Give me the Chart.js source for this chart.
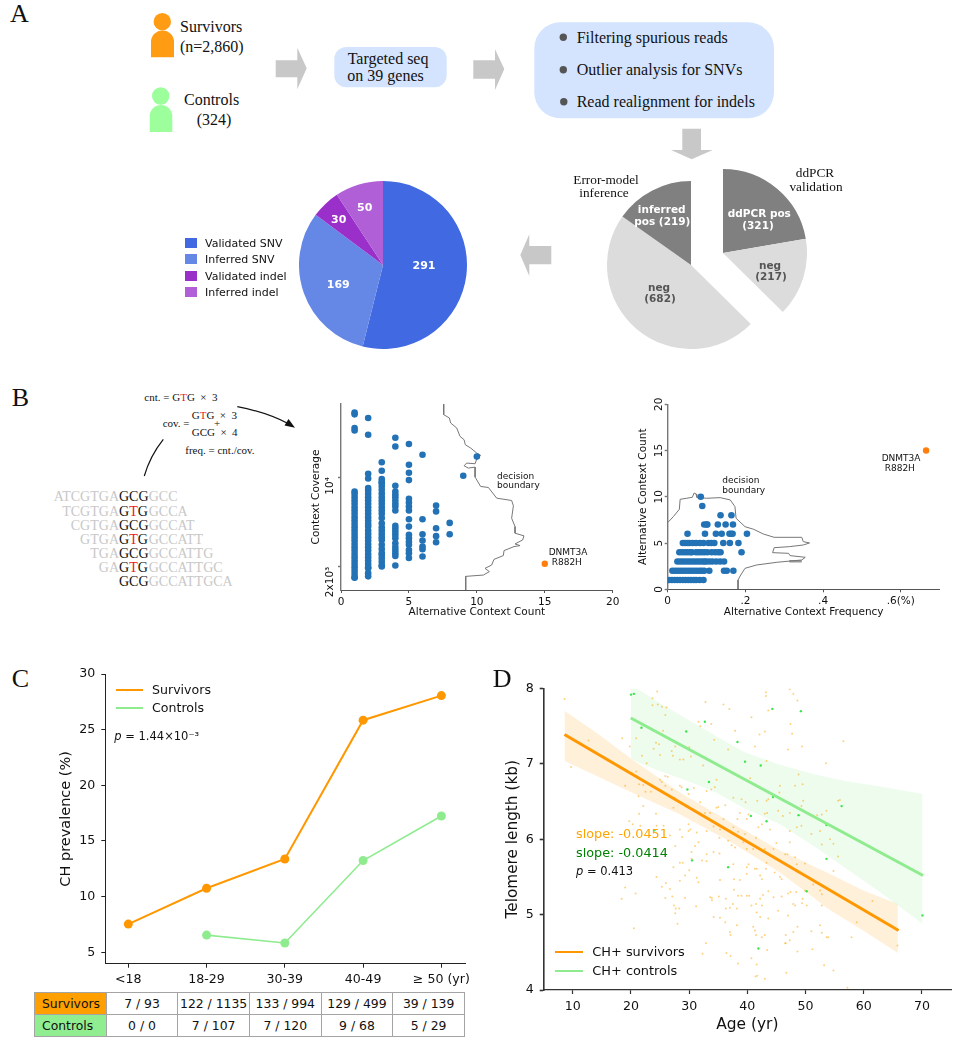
<!DOCTYPE html>
<html lang="en">
<head>
<meta charset="UTF-8">
<title>CH in survivors</title>
<script src="https://cdn.jsdelivr.net/npm/chart.js"></script>
<style>
    body { margin: 0; background: #fff; }
    #fig { position: relative; width: 967px; height: 1050px; overflow: hidden; }
    #fig canvas { position: absolute; }
    #shapes { position: absolute; left: 0; top: 0; }
    .lbl { position: absolute; white-space: nowrap; line-height: 1; color: #111; }
    .serif { font-family: "Liberation Serif", serif; }
    .sans { font-family: "DejaVu Sans", sans-serif; }
    .red { color: #e8201c; }
    .dark { color: #111; }
    table { position: absolute; left: 34px; top: 992px; width: 431px; height: 44px; border-collapse: collapse;
            table-layout: fixed; font: 12.4px "DejaVu Sans", sans-serif; color: #111; }
    td { border: 1px solid #a4a4a4; text-align: center; padding: 0; height: 21px; white-space: nowrap; }
    td.head { text-align: left; padding-left: 7px; }
</style>
</head>
<body>
<div id="fig">
    <svg id="shapes" width="967" height="1050">
        <!-- people -->
        <circle cx="162.3" cy="21.7" r="8.7" fill="#ff9c14"/>
        <path d="M151 57.3 V42 A11.5 11.5 0 0 1 174 42 V57.3 Z" fill="#ff9c14"/>
        <circle cx="160.7" cy="96" r="8.7" fill="#9cff9c"/>
        <path d="M149.7 132 V116.3 A11.3 11.3 0 0 1 172.3 116.3 V132 Z" fill="#9cff9c"/>
        <!-- flow boxes -->
        <rect x="334.3" y="47" width="112.4" height="40.3" rx="12" fill="#d4e4ff"/>
        <rect x="534.3" y="22.3" width="239.7" height="96" rx="26" fill="#d4e4ff"/>
        <circle cx="563.3" cy="37.3" r="3.7" fill="#555"/>
        <circle cx="563.3" cy="69.7" r="3.7" fill="#555"/>
        <circle cx="563.8" cy="101.7" r="3.7" fill="#555"/>
        <!-- grey arrows -->
        <polygon points="275.7,60.3 297.3,60.3 297.3,47.7 306.7,68.3 297.3,89.3 297.3,77.3 275.7,77.3" fill="#c8c8c8"/>
        <polygon points="473.3,60.3 495,60.3 495,49.3 504.3,69 495,90 495,78.7 473.3,78.7" fill="#c8c8c8"/>
        <polygon points="682.3,128.7 701,128.7 701,150 712.7,150 691.7,159.3 671,150 682.3,150" fill="#c8c8c8"/>
        <polygon points="551.3,246 529.3,246 529.3,234.3 520.3,255 529.3,276 529.3,264.3 551.3,264.3" fill="#c8c8c8"/>
        <!-- panel B arrows -->
        <path d="M237.3 406.7 Q266 412 289 424" fill="none" stroke="#111" stroke-width="1.2"/>
        <polygon points="295,427.7 284.5,425.5 288.5,419" fill="#111"/>
        <path d="M163.3 439.3 Q150 456 144.3 476" fill="none" stroke="#111" stroke-width="1.2"/>
    </svg>
    <canvas id="outcomePie" style="left:299px;top:181px"></canvas>
    <canvas id="ddpcrPie" style="left:639px;top:169.3px"></canvas>
    <canvas id="modelPie" style="left:607.3px;top:181px"></canvas>
    <canvas id="coverageChart" style="left:300px;top:394px"></canvas>
    <canvas id="frequencyChart" style="left:630px;top:394px"></canvas>
    <canvas id="prevalenceChart" style="left:40px;top:660px"></canvas>
    <canvas id="telomereChart" style="left:490px;top:675px"></canvas>
    <table id="countTable"></table>
</div>

<script>
    // panel A
    const outcomeLabels = ['Validated SNV', 'Inferred SNV', 'Validated indel', 'Inferred indel'];
    const outcomeValues = [291, 169, 30, 50];
    const outcomeColors = ['#4169e1', '#6588e6', '#9a30c9', '#b05fd6'];
    const callLabels = ['ddPCR pos', 'neg', 'neg', 'inferred pos'];
    const callValues = [321, 217, 682, 219];

    // panel B, left: context coverage per alternative count
    const coverageCount1 = [31900, 30900, 24200, 23100, 7725, 7406, 6975, 6568, 6186, 5825, 5486, 5166, 4865, 4582, 4315, 4063, 3826, 3603, 3393, 3196, 3009, 2834, 2669, 2513, 2367, 2229, 2099, 1977, 1861, 1753, 1651, 1640];
    const coverageCount2 = [28930, 21400, 10600, 9763, 8206, 7865, 7406, 6975, 6600, 6186, 5825, 5486, 5166, 4865, 4582, 4315, 4110, 3826, 3603, 3393, 3196, 3009, 2834, 2669, 2513, 2367, 2229, 2099, 1977, 1940, 1780, 1680];
    const coverageCount3 = [13050, 11210, 9640, 9150, 8975, 8500, 7950, 7450, 6975, 6568, 6186, 5825, 5486, 5166, 4800, 4360, 4063, 3826, 3603, 3393, 3230, 2960, 2750, 2560, 2470, 2320, 2180, 2050, 2010];
    const coverageCount4 = [20300, 17350, 8550, 7725, 7300, 6975, 6568, 6186, 5900, 5486, 4160, 3950, 3750, 3550, 3340, 3040, 2850, 2700, 2550, 2420, 2040];
    const coverageCount5 = [18120, 12490, 10810, 9475, 6770, 6340, 5900, 5490, 4690, 4110, 3540, 3330, 3130, 2960, 2700, 2540, 2340];
    const coverageCount6 = [14950, 4690, 3580, 3200, 2870, 2740, 2400];
    const coverageCount7 = [5995, 5400, 3990, 3460, 3100];
    const coverageCount8 = [4390, 3580];
    const coverageCount9 = [10240];
    const coverageCount10 = [14450];
    const coverageBoundaryX = [7.56, 7.56, 7.98, 8.07, 8.52, 8.76, 9.06, 9.15, 9.55, 9.99, 10.28, 9.99, 9.87, 9.25, 9.06, 9.37, 9.87, 9.87, 10.28, 10.85, 11.46, 12.56, 12.69, 12.56, 12.81, 12.81, 13.47, 13.37, 12.81, 13.18, 12.74, 12.0, 11.95, 11.26, 11.09, 10.6, 10.92, 10.48, 9.18, 9.18];
    const coverageBoundaryY = [37200, 30720, 28930, 26440, 24160, 20800, 19580, 17900, 16850, 15400, 14770, 13830, 12710, 12870, 12260, 11760, 11970, 10000, 8450, 8300, 6850, 6570, 5970, 4780, 4110, 3650, 3480, 3230, 3010, 2920, 2870, 2670, 2440, 2280, 2060, 1940, 1830, 1720, 1680, 1315];
    const coverageTicks = [2000, 10000];
    const coverageTickLabels = ['2x10³', '10⁴'];
    const countTicks = [0, 5, 10, 15, 20];
    const dnmt3aCount = 15;
    const dnmt3aCoverage = 2110;

    // panel B, right: frequency per alternative count
    const freqCount1 = [0.004, 0.011, 0.018, 0.025, 0.032, 0.039, 0.046, 0.053, 0.060, 0.067, 0.073, 0.082, 0.092];
    const freqCount2 = [0.012, 0.019, 0.026, 0.033, 0.040, 0.047, 0.054, 0.061, 0.068, 0.075, 0.082, 0.088, 0.094, 0.107, 0.145, 0.152, 0.169];
    const freqCount3 = [0.025, 0.032, 0.039, 0.046, 0.053, 0.060, 0.067, 0.074, 0.081, 0.088, 0.094, 0.099, 0.107, 0.115, 0.125, 0.135, 0.145];
    const freqCount4 = [0.030, 0.037, 0.044, 0.051, 0.058, 0.062, 0.073, 0.080, 0.087, 0.094, 0.102, 0.113, 0.122, 0.130, 0.136, 0.190];
    const freqCount5 = [0.039, 0.045, 0.051, 0.056, 0.064, 0.073, 0.083, 0.092, 0.105, 0.112, 0.120, 0.143, 0.160, 0.182];
    const freqCount6 = [0.051, 0.096, 0.124, 0.139, 0.159, 0.163, 0.167, 0.204];
    const freqCount7 = [0.094, 0.100, 0.102, 0.129, 0.149, 0.168];
    const freqCount8 = [0.136, 0.164];
    const freqCount9 = [0.089];
    const freqCount10 = [0.085];
    const freqBoundaryX = [0, 0.0146, 0.030, 0.032, 0.049, 0.0635, 0.068, 0.073, 0.0747, 0.100, 0.135, 0.161, 0.173, 0.176, 0.199, 0.221, 0.246, 0.274, 0.345, 0.349, 0.365, 0.349, 0.313, 0.274, 0.270, 0.311, 0.315, 0.354, 0.345, 0.281, 0.229, 0.199, 0.188, 0.181, 0.181];
    const freqBoundaryY = [7.21, 7.86, 8.65, 9.73, 9.84, 9.95, 10.41, 10.31, 9.95, 9.84, 9.91, 9.66, 8.94, 7.68, 6.77, 6.49, 5.98, 5.62, 5.62, 5.15, 5.01, 4.79, 4.61, 4.50, 3.96, 3.89, 3.64, 3.46, 3.17, 2.92, 2.63, 2.27, 1.55, 1.01, 0];
    const freqBoundaryStubX = [0.313, 0.345];
    const freqBoundaryStubY = [3.03, 3.03];
    const freqTicks = [0, 0.2, 0.4, 0.6];
    const freqTickLabels = ['0', '.2', '.4', '.6(%)'];
    const dnmt3aFreq = 0.665;

    // panel C
    const ageGroups = ['<18', '18-29', '30-39', '40-49', '≥ 50 (yr)'];
    const survivorPrevalence = [7.53, 10.75, 13.38, 25.85, 28.06];
    const controlPrevalence = [null, 6.54, 5.83, 13.24, 17.24];
    const survivorCounts = ['7 / 93', '122 / 1135', '133 / 994', '129 / 499', '39 / 139'];
    const controlCounts = ['0 / 0', '7 / 107', '7 / 120', '9 / 68', '5 / 29'];
    const prevalenceTicks = [5, 10, 15, 20, 25, 30];

    // panel D
    const survivorFitAge = [8.57, 66];
    const survivorFitLength = [7.39, 4.79];
    const controlFitAge = [19.96, 70.2];
    const controlFitLength = [7.61, 5.52];
    const survivorBandAge = [8.57, 14.12, 19.85, 28.43, 37.02, 45.6, 54.19, 59.91, 65.87];
    const survivorBandUpper = [7.705, 7.41, 7.08, 6.62, 6.23, 5.85, 5.54, 5.32, 5.14];
    const survivorBandLower = [7.04, 6.84, 6.63, 6.33, 5.97, 5.56, 5.06, 4.79, 4.49];
    const controlBandAge = [19.96, 20.99, 24.42, 28.43, 34.16, 39.31, 45.6, 51.61, 57.05, 62.78, 70.1];
    const controlBandUpper = [8, 8, 7.83, 7.65, 7.39, 7.16, 6.99, 6.86, 6.77, 6.70, 6.60];
    const controlBandLower = [7.08, 7.03, 6.92, 6.81, 6.64, 6.42, 6.2, 5.9, 5.61, 5.30, 4.88];
    const controlDotAge = [20, 20.5, 21.8, 29.5, 32.7, 38.3, 39.6, 42.3, 44.3, 49.2, 33.4, 29.7, 44.4, 40.6, 43.3, 48.8, 56.2, 53.6, 24, 30.5, 36.7, 53.6, 50.2, 70.1, 41.9];
    const controlDotLength = [7.92, 7.93, 7.48, 7.43, 7.56, 7.29, 7.03, 6.98, 7.73, 7.7, 6.76, 6.66, 6.56, 6.31, 6.24, 6.32, 6.44, 6.19, 6.12, 5.72, 5.63, 5.74, 5.31, 4.99, 4.55];
    const survivorDotAge = [8.6, 9.7, 12.7, 18.5, 19.8, 20.9, 21.9, 22.7, 23.7, 24.5, 23.7, 24.6, 25.3, 26.1, 25.9, 25.5, 24.3, 24.8, 23.9, 25, 27, 27.2, 27.6, 28.4, 29, 30, 30.3, 31.6, 31.9, 32.8, 33.8, 34.3, 32.4, 35.9, 36.9, 37.9, 36.7, 40.7, 41.3, 42.1, 43, 43.2, 43.2, 43.6, 43.3, 47.3, 47.9, 48.6, 47.4, 47.7, 47, 49.4, 56.5, 53.5,
        19, 20.1, 20.9, 21.4, 22.1, 22.5, 21.3, 23.4, 22.1, 21.4, 24.3, 25, 25.3, 25.9, 26.3, 25, 25.9, 27, 28.4, 28.7, 27.5, 27.3, 29.9, 30.8, 31.9, 32.7, 33.6, 33, 33.8, 34.7, 34.4, 34.7, 35, 36.2, 35.9, 37.6, 39, 39.7, 40.5, 41.7, 43.3, 43.6, 43, 43.4, 38.7, 38.3, 39.9, 40.2, 45.6, 45.5, 45.3, 46.1, 48.8, 49.5, 48.2, 49.6, 49.3, 52, 52.8, 53.6, 55.6, 55.9, 47.3, 48.5, 49.3, 51, 52.5, 54.2, 52.8, 54.8, 55.6, 47.3, 47.3, 45, 42.5, 41.9, 43.9, 41.5, 39.6, 38.4, 37.6, 37.6, 36.7, 35.2, 37.3, 37.9, 39.3, 39.9, 41, 43, 44.5, 46.5, 46.9, 48.2, 48.5, 49.9, 54.8,
        28.4, 29.9, 29.9, 30.2, 26.7, 28.8, 27.6, 25.6, 19.7, 20.3, 21.6, 24.4, 31.3, 33, 34.2, 35.3, 30.4, 31, 31.6, 33, 34.2, 35.2, 30.4, 33, 28.9, 28.4, 27.3, 30, 32.2, 37.6, 39.9, 40.2, 41.3, 41.6, 43.3, 43.2, 42.2, 42.5, 39.9, 44.7, 45.6, 45.9, 51.3, 35.3, 37.7, 38.7, 31.3, 31.6, 29.3, 28.4, 24.4, 25.3, 26, 26.7, 19, 20.8, 18.4, 25.9, 27.1, 29.3, 33.6, 33.9, 33.9, 35.1, 36.3, 37.7, 38.4, 39, 39.9, 40.3, 42.7, 42.2, 43.6, 44.5, 45.9, 47, 47.4, 48.4, 49.9, 49.5, 52.5, 52.8, 54.2, 61.5,
        27.4, 27.7, 28.3, 27.6, 31.2, 36.3, 37, 37.5, 38.2, 40.7, 41.5, 41.6, 42.5, 45.3, 47, 47.9, 48.2, 50.2, 49.4, 52.8, 35.3, 36.2, 34.2, 42.2, 43.6, 28, 38.2, 37, 37.1, 41, 41.3, 41.5, 42.5, 43, 43.4, 20.5, 51, 52.5, 52.8, 53.6, 53.9, 57.9, 58.8, 46.6, 46.5, 46.6, 47.3, 47.9, 48.6, 48.6, 32.9, 32.3, 36.4, 37.1, 38.4, 40.7, 41.6, 41.4, 41.7, 43, 46.7, 51.2, 53.2, 54.8, 57.2, 65.8];
    const survivorDotLength = [7.86, 6.96, 7.31, 7.34, 7.23, 7.34, 7.11, 7.01, 7.87, 7.96, 7.78, 7.79, 7.76, 7.75, 7.65, 7.44, 7.28, 7.26, 7.2, 7.12, 7.17, 7.11, 7.23, 7.06, 7.06, 7.22, 7.1, 7.56, 7.5, 7.82, 7.53, 7.32, 6.98, 7.79, 7.73, 7.44, 7.19, 7.62, 7.23, 7.39, 7.43, 7.95, 7.9, 7.71, 7.04, 7.99, 7.93, 7.84, 7.53, 7.4, 7.19, 7.23, 7.3, 7.01,
        6.71, 6.88, 6.9, 6.73, 6.72, 6.63, 6.57, 6.63, 6.44, 6.34, 6.34, 6.79, 6.76, 6.84, 6.83, 6.64, 6.71, 6.66, 6.71, 6.69, 6.55, 6.42, 6.6, 6.68, 6.49, 6.35, 6.35, 6.64, 6.66, 6.79, 6.69, 6.42, 6.43, 6.45, 6.27, 6.55, 6.53, 6.49, 6.81, 6.51, 6.51, 6.53, 6.34, 6.35, 6.35, 6.27, 6.27, 6.33, 6.71, 6.62, 6.38, 6.31, 6.86, 6.73, 6.71, 6.51, 6.44, 6.32, 6.33, 6.38, 6.51, 6.52, 6.35, 6.16, 6.18, 6.07, 6.11, 6, 5.93, 5.94, 5.77, 6.11, 5.96, 5.95, 6.2, 6.16, 6.13, 6.02, 6.07, 6.1, 6.16, 6.07, 5.98, 6.02, 5.92, 5.89, 5.96, 5.87, 5.87, 5.87, 5.87, 5.8, 5.8, 5.76, 5.67, 5.68, 5.58,
        6.13, 6.2, 6.11, 6.13, 6.05, 6.03, 5.91, 6.18, 6.24, 6.2, 6.18, 6.18, 6.09, 6.11, 6.17, 6.13, 5.83, 5.91, 5.96, 5.8, 5.83, 5.81, 5.74, 5.71, 5.69, 5.69, 5.63, 5.59, 5.72, 5.67, 5.63, 5.67, 5.61, 5.61, 5.69, 5.61, 5.52, 5.47, 5.54, 5.56, 5.5, 5.47, 5.4, 5.46, 5.47, 5.46, 5.49, 5.43, 5.52, 5.45, 5.5, 5.37, 5.42, 5.34, 5.36, 5.28, 5.21, 5.22, 5.24, 5.22, 5.23, 5.22, 5.19, 5.24, 5.21, 5.33, 5.25, 5.25, 5.25, 5.25, 5.26, 5.21, 5.31, 5.23, 5.24, 5.28, 5.3, 5.3, 5.32, 5.21, 5.32, 5.27, 5.32, 5.18,
        5.12, 5.08, 5.08, 5.02, 5.11, 5.08, 5.09, 5.14, 5.08, 5.12, 5.14, 5.03, 5.12, 5.05, 4.99, 5.14, 5.12, 5.12, 5.15, 5.12, 4.96, 4.9, 4.97, 4.97, 4.95, 4.88, 4.86, 4.77, 4.73, 4.84, 4.79, 4.73, 4.7, 4.73, 4.53, 4.82, 4.78, 4.86, 4.76, 4.7, 4.7, 4.7, 4.9, 4.73, 4.62, 4.62, 4.66, 4.77, 4.84, 4.51, 4.62, 4.48, 4.49, 4.45, 4.35, 4.42, 4.34, 4.18, 4.19, 4.15, 4.23, 4.54, 4.33, 4.26, 4.03, 4.59];
    const ageTicks = [10, 20, 30, 40, 50, 60, 70];
    const lengthTicks = [4, 5, 6, 7, 8];

    const blue = '#2272b5';
    const orange = '#ff7f0e';
    const survivorColor = '#ff9800';
    const controlColor = '#8eec8e';
    Chart.defaults.font.family = '"DejaVu Sans", sans-serif';
    Chart.defaults.color = '#111';
    Chart.defaults.animation = false;
    Chart.defaults.events = [];

    // y tick labels turned 90 degrees, as in panel B
    const sideTicks = {
        id: 'sideTicks',
        afterDraw(chart, args, opts) {
            const scale = chart.scales.y;
            const ctx = chart.ctx;
            ctx.save();
            ctx.font = '10.5px "DejaVu Sans"';
            ctx.fillStyle = '#111';
            ctx.textAlign = opts.align;
            ctx.textBaseline = 'middle';
            scale.ticks.forEach(t => {
                ctx.save();
                ctx.translate(chart.chartArea.left - opts.gap, scale.getPixelForValue(t.value));
                ctx.rotate(-Math.PI / 2);
                ctx.fillText(t.label, 0, 0);
                ctx.restore();
            });
            ctx.restore();
        }
    };

    function pairs(xs, ys) {
        return xs.map((x, i) => ({ x: x, y: ys[i] }));
    }

    function column(count, values) {
        return values.map(v => ({ x: count, y: v }));
    }

    function row(count, values) {
        return values.map(v => ({ x: v, y: count }));
    }

    // axis with a fixed band so the plot area lands where it should
    function axis(o) {
        return {
            type: o.type || 'linear',
            min: o.min,
            max: o.max,
            afterFit: scale => {
                if (o.width) scale.width = o.width;
                if (o.height) scale.height = o.height;
            },
            afterBuildTicks: scale => { scale.ticks = o.ticks.map(v => ({ value: v })); },
            border: { color: o.color, width: o.lineWidth },
            grid: { display: true, drawOnChartArea: false, drawTicks: true, tickLength: o.tick, color: o.color, tickColor: o.color, tickWidth: o.lineWidth },
            ticks: {
                display: !o.sideLabels,
                autoSkip: false,
                maxRotation: 0,
                padding: o.tickPad,
                color: '#111',
                font: { size: o.tickSize },
                callback: (v, i) => (o.labels ? o.labels[i] : String(v))
            },
            title: { display: !!o.title, text: o.title, color: '#111', font: { size: o.titleSize }, padding: o.titlePad }
        };
    }

    function sizeCanvas(id, w, h) {
        const c = document.getElementById(id);
        c.width = w;
        c.height = h;
        c.style.width = w + 'px';
        c.style.height = h + 'px';
        return c;
    }

    function makePie(id, size, values, colors) {
        new Chart(sizeCanvas(id, size, size), {
            type: 'pie',
            data: { labels: id === 'outcomePie' ? outcomeLabels : callLabels, datasets: [{ data: values, backgroundColor: colors, borderWidth: 0, hoverOffset: 0 }] },
            options: { responsive: false, plugins: { legend: { display: false }, tooltip: { enabled: false } } }
        });
    }

    makePie('outcomePie', 168, outcomeValues, outcomeColors);
    // one pie drawn twice, each half showing only its own slices, to pull the halves apart
    makePie('ddpcrPie', 168, callValues, ['#808080', '#dcdcdc', 'rgba(0,0,0,0)', 'rgba(0,0,0,0)']);
    makePie('modelPie', 168, callValues, ['rgba(0,0,0,0)', 'rgba(0,0,0,0)', '#dcdcdc', '#808080']);

    const coverageDots = [coverageCount1, coverageCount2, coverageCount3, coverageCount4, coverageCount5, coverageCount6, coverageCount7, coverageCount8, coverageCount9, coverageCount10]
        .flatMap((values, i) => column(i + 1, values));
    new Chart(sizeCanvas('coverageChart', 330, 230), {
        type: 'scatter',
        data: {
            datasets: [
                { data: [{ x: dnmt3aCount, y: dnmt3aCoverage }], pointRadius: 3.2, backgroundColor: orange, borderWidth: 0 },
                { data: coverageDots, pointRadius: 3.3, backgroundColor: blue, borderWidth: 0 },
                { data: pairs(coverageBoundaryX, coverageBoundaryY), showLine: true, pointRadius: 0, borderColor: '#777', borderWidth: 1 }
            ]
        },
        options: {
            responsive: false,
            layout: { padding: { top: 10, right: 17.3 } },
            plugins: { legend: { display: false }, tooltip: { enabled: false }, sideTicks: { align: 'right', gap: 11 } },
            scales: {
                x: axis({ min: 0, max: 20, ticks: countTicks, height: 34, color: '#555', lineWidth: 1, tick: 3, tickPad: 3, tickSize: 10.5, title: 'Alternative Context Count', titleSize: 10.5, titlePad: { bottom: 5.4 } }),
                y: axis({ type: 'logarithmic', min: 1315, max: 37200, ticks: coverageTicks, labels: coverageTickLabels, sideLabels: true, width: 41, color: '#777', lineWidth: 1.4, tick: 3, tickSize: 10.5, title: 'Context Coverage', titleSize: 10.5, titlePad: { top: 10.4 } })
            }
        },
        plugins: [sideTicks]
    });

    const freqDots = [freqCount1, freqCount2, freqCount3, freqCount4, freqCount5, freqCount6, freqCount7, freqCount8, freqCount9, freqCount10]
        .flatMap((values, i) => row(i + 1, values));
    new Chart(sizeCanvas('frequencyChart', 325, 230), {
        type: 'scatter',
        data: {
            datasets: [
                { data: [{ x: dnmt3aFreq, y: dnmt3aCount }], pointRadius: 3.2, backgroundColor: orange, borderWidth: 0 },
                { data: freqDots, pointRadius: 3.3, backgroundColor: blue, borderWidth: 0 },
                { data: pairs(freqBoundaryX, freqBoundaryY), showLine: true, pointRadius: 0, borderColor: '#777', borderWidth: 1 },
                { data: pairs(freqBoundaryStubX, freqBoundaryStubY), showLine: true, pointRadius: 0, borderColor: '#999', borderWidth: 2.5 }
            ]
        },
        options: {
            responsive: false,
            layout: { padding: { top: 10.3, right: 15.3 } },
            plugins: { legend: { display: false }, tooltip: { enabled: false }, sideTicks: { align: 'center', gap: 8.4 } },
            scales: {
                x: axis({ min: 0, max: 0.7, ticks: freqTicks, labels: freqTickLabels, height: 34.7, color: '#555', lineWidth: 1, tick: 3, tickPad: 3, tickSize: 10.5, title: 'Alternative Context Frequency', titleSize: 10.5, titlePad: { bottom: 5 } }),
                y: axis({ min: 0, max: 20, ticks: countTicks, sideLabels: true, width: 37.7, color: '#777', lineWidth: 1.4, tick: 3, tickSize: 10.5, title: 'Alternative Context Count', titleSize: 10.5, titlePad: { top: 7 } })
            }
        },
        plugins: [sideTicks]
    });

    new Chart(sizeCanvas('prevalenceChart', 440, 330), {
        type: 'scatter',
        data: {
            datasets: [
                { label: 'Survivors', data: survivorPrevalence.map((y, x) => ({ x: x, y: y })), showLine: true, borderColor: survivorColor, backgroundColor: survivorColor, borderWidth: 2, pointRadius: 4.5, pointBorderWidth: 0 },
                { label: 'Controls', data: controlPrevalence.map((y, x) => ({ x: x, y: y })), showLine: true, borderColor: controlColor, backgroundColor: controlColor, borderWidth: 1.6, pointRadius: 4.5, pointBorderWidth: 0 }
            ]
        },
        options: {
            responsive: false,
            layout: { padding: { top: 14, right: 15 } },
            plugins: { legend: { display: false }, tooltip: { enabled: false } },
            scales: {
                x: axis({ min: -0.294, max: 4.302, ticks: [0, 1, 2, 3, 4], labels: ageGroups, height: 26.3, color: '#222', lineWidth: 1, tick: 4, tickPad: 4, tickSize: 12.6 }),
                y: axis({ min: 3.97, max: 30, ticks: prevalenceTicks, width: 65.3, color: '#222', lineWidth: 1, tick: 4, tickPad: 6, tickSize: 12.6, title: 'CH prevalence (%)', titleSize: 14.5, titlePad: { top: 18 } })
            }
        }
    });

    new Chart(sizeCanvas('telomereChart', 477, 365), {
        type: 'scatter',
        data: {
            datasets: [
                { data: pairs(survivorBandAge, survivorBandUpper), showLine: true, pointRadius: 0, borderWidth: 0, fill: '+1', backgroundColor: 'rgba(255,152,0,0.15)', order: 5 },
                { data: pairs(survivorBandAge, survivorBandLower), showLine: true, pointRadius: 0, borderWidth: 0, order: 5 },
                { data: pairs(controlBandAge, controlBandUpper), showLine: true, pointRadius: 0, borderWidth: 0, fill: '+1', backgroundColor: 'rgba(144,238,144,0.16)', order: 4 },
                { data: pairs(controlBandAge, controlBandLower), showLine: true, pointRadius: 0, borderWidth: 0, order: 4 },
                { data: pairs(survivorDotAge, survivorDotLength), pointRadius: 1, backgroundColor: 'rgba(255,165,0,0.5)', borderWidth: 0, order: 3 },
                { data: pairs(controlDotAge, controlDotLength), pointRadius: 1.2, backgroundColor: 'rgba(40,225,60,0.9)', borderWidth: 0, order: 2 },
                { label: 'CH+ survivors', data: pairs(survivorFitAge, survivorFitLength), showLine: true, pointRadius: 0, borderColor: survivorColor, borderWidth: 3, order: 1 },
                { label: 'CH+ controls', data: pairs(controlFitAge, controlFitLength), showLine: true, pointRadius: 0, borderColor: controlColor, borderWidth: 3, order: 1 }
            ]
        },
        options: {
            responsive: false,
            layout: { padding: { top: 12, right: 16 } },
            plugins: { legend: { display: false }, tooltip: { enabled: false } },
            scales: {
                x: axis({ min: 5, max: 75, ticks: ageTicks, height: 50, color: '#333', lineWidth: 1.2, tick: 4, tickPad: 5, tickSize: 12.6, title: 'Age (yr)', titleSize: 15.4, titlePad: { bottom: 6 } }),
                y: axis({ min: 4, max: 8, ticks: lengthTicks, width: 53.7, color: '#333', lineWidth: 1.6, tick: 4, tickPad: 6, tickSize: 12.6, title: 'Telomere length (kb)', titleSize: 15.3, titlePad: { top: 13.4 } })
            }
        }
    });

    // table under panel C
    const tableRows = [['Survivors', survivorCounts, '#ff9f00'], ['Controls', controlCounts, '#90ee90']];
    document.getElementById('countTable').innerHTML = tableRows.map(r =>
        '<tr><td class="head" style="background:' + r[2] + '">' + r[0] + '</td>' + r[1].map(c => '<td>' + c + '</td>').join('') + '</tr>'
    ).join('');

    const fig = document.getElementById('fig');

    function addText(html, x, y, font, size, extra) {
        const d = document.createElement('div');
        d.className = 'lbl ' + font;
        d.innerHTML = html;
        d.style.left = x + 'px';
        d.style.top = y + 'px';
        d.style.fontSize = size + 'px';
        d.style.transform = 'translate(' + (extra && extra.center ? '-50%' : '0') + ',-50%)';
        if (extra && extra.color) d.style.color = extra.color;
        if (extra && extra.bold) d.style.fontWeight = 'bold';
        fig.appendChild(d);
    }

    function addLine(x1, x2, y, color, width) {
        const d = document.createElement('div');
        d.style.cssText = 'position:absolute;left:' + x1 + 'px;top:' + (y - width / 2) + 'px;width:' + (x2 - x1) + 'px;height:' + width + 'px;background:' + color;
        fig.appendChild(d);
    }

    // panel letters
    addText('A', 10, 14, 'serif', 26);
    addText('B', 11.7, 398, 'serif', 26);
    addText('C', 11.7, 678.7, 'serif', 26);
    addText('D', 492.7, 679, 'serif', 26);

    // panel A text
    addText('Survivors', 180, 27.3, 'serif', 16);
    addText('(n=2,860)', 180, 47, 'serif', 16);
    addText('Controls', 184, 100, 'serif', 16);
    addText('(324)', 196.7, 120, 'serif', 16);
    addText('Targeted seq', 347.7, 59, 'serif', 16);
    addText('on 39 genes', 347.3, 75.7, 'serif', 16);
    addText('Filtering spurious reads', 576.7, 38, 'serif', 16);
    addText('Outlier analysis for SNVs', 576.7, 70, 'serif', 16);
    addText('Read realignment for indels', 576.7, 102, 'serif', 16);
    addText('Error-model', 606, 180, 'serif', 13.3, { center: true });
    addText('inference', 604, 193.3, 'serif', 13.3, { center: true });
    addText('ddPCR', 815, 173.3, 'serif', 13.3, { center: true });
    addText('validation', 816, 187.3, 'serif', 13.3, { center: true });

    addText('inferred', 661.7, 209.3, 'sans', 10.5, { center: true, color: '#fff', bold: true });
    addText('pos (219)', 662.3, 220.7, 'sans', 10.5, { center: true, color: '#fff', bold: true });
    addText('ddPCR pos', 759.3, 213.3, 'sans', 10.5, { center: true, color: '#fff', bold: true });
    addText('(321)', 758, 225, 'sans', 10.5, { center: true, color: '#fff', bold: true });
    addText('neg', 770, 265, 'sans', 10.5, { center: true, color: '#555', bold: true });
    addText('(217)', 771, 276, 'sans', 10.5, { center: true, color: '#555', bold: true });
    addText('neg', 659, 286.7, 'sans', 10.5, { center: true, color: '#555', bold: true });
    addText('(682)', 660, 297.7, 'sans', 10.5, { center: true, color: '#555', bold: true });

    addText('291', 424, 265, 'sans', 11, { center: true, color: '#fff', bold: true });
    addText('169', 338.3, 284, 'sans', 11, { center: true, color: '#fff', bold: true });
    addText('30', 338.7, 219.3, 'sans', 11, { center: true, color: '#fff', bold: true });
    addText('50', 364.7, 207, 'sans', 11, { center: true, color: '#fff', bold: true });

    // pie legend
    const legendY = [243, 259.3, 275.7, 292];
    outcomeLabels.forEach((name, i) => {
        addLine(185.3, 196.7, legendY[i], outcomeColors[i], 10.4);
        addText(name, 205, legendY[i], 'sans', 11);
    });

    // panel B formula
    addText('cnt. = G<span class="red">T</span>G &nbsp;× &nbsp;3', 144.3, 397.3, 'serif', 11);
    addText('cov. =', 162.7, 423.3, 'serif', 11);
    addText('G<span class="red">T</span>G &nbsp;× &nbsp;3', 191.7, 415, 'serif', 11);
    addText('+', 217, 422.7, 'serif', 11, { center: true });
    addText('GCG &nbsp;× &nbsp;4', 191.7, 432.3, 'serif', 11);
    addText('freq. = cnt./cov.', 185.3, 450.3, 'serif', 11);

    // reads around the site
    const readPrefix = ['ATCGTGA', 'TCGTGA', 'CGTGA', 'GTGA', 'TGA', 'GA', ''];
    const readCore = ['GCG', 'G<span class="red">T</span>G', 'GCG', 'G<span class="red">T</span>G', 'GCG', 'G<span class="red">T</span>G', 'GCG'];
    const readSuffix = ['GCC', 'GCCA', 'GCCAT', 'GCCATT', 'GCCATTG', 'GCCATTGC', 'GCCATTGCA'];
    const readY = [497.3, 511.7, 525.7, 540, 554, 568.3, 582.3];
    readCore.forEach((core, i) => {
        addText(readPrefix[i], 119, readY[i], 'serif', 14, { color: '#c8c8c8' });
        fig.lastChild.style.transform = 'translate(-100%,-50%)';
        addText(core, 119, readY[i], 'serif', 14, { color: '#111' });
        addText(readSuffix[i], 148.7, readY[i], 'serif', 14, { color: '#c8c8c8' });
    });

    addText('decision', 497, 475.7, 'sans', 9);
    addText('boundary', 497, 485.3, 'sans', 9);
    addText('DNMT3A', 548.7, 551.7, 'sans', 9);
    addText('R882H', 551.7, 561.7, 'sans', 9);
    addText('decision', 722.3, 480.3, 'sans', 9);
    addText('boundary', 722.3, 490.3, 'sans', 9);
    addText('DNMT3A', 881.7, 458, 'sans', 9);
    addText('R882H', 884.7, 467.7, 'sans', 9);

    // panel C legend
    addLine(116, 143, 690, survivorColor, 2);
    addText('Survivors', 152, 689.7, 'sans', 12.6);
    addLine(116, 143, 708, controlColor, 2);
    addText('Controls', 152, 707.7, 'sans', 12.6);
    addText('<i>p</i> = 1.44×10⁻³', 114.3, 736.7, 'sans', 11.5);

    // panel D legend and notes
    addText('slope: -0.0451', 576, 834, 'sans', 12.8, { color: '#ffa500' });
    addText('slope: -0.0414', 576, 853, 'sans', 12.8, { color: '#008000' });
    addText('<i>p</i> = 0.413', 576, 872, 'sans', 11.5);
    addLine(555, 583, 952, survivorColor, 2);
    addText('CH+ survivors', 592.3, 952, 'sans', 12.9);
    addLine(555, 583, 971, controlColor, 2);
    addText('CH+ controls', 592.3, 971, 'sans', 12.9);
</script>
</body>
</html>
